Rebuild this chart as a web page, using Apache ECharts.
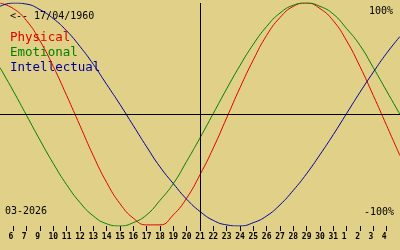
<!DOCTYPE html>
<html>
<head>
<meta charset="utf-8">
<script src="https://cdn.jsdelivr.net/npm/echarts@6/dist/echarts.min.js"></script>
<style>
html,body{margin:0;padding:0;background:#e0d088;}
#chart{width:400px;height:250px;}
</style>
</head>
<body>
<div id="chart"></div>
<script>
// Day tick labels (first/last positions are the chart edges, unlabeled)
var dayLabels = ['', '6', '7', '9', '10', '11', '12', '13', '14', '15', '16', '17', '18', '19', '20',
  '21', '22', '23', '24', '25', '26', '27', '28', '29', '30', '31', '1', '2', '3', '4', ' '];
// Values in percent, one per day position
var physical = [100, 95, 84, 66, 43, 17, -10, -37, -61, -80, -93, -99, -99, -90, -75, -54,
  -30, -3, 24, 49, 71, 87, 97, 100, 95, 84, 66, 43, 17, -10, -37];
var emotional = [42, 21, -1, -23, -44, -63, -79, -91, -98, -100, -97, -90, -77, -62, -42, -21,
  1, 23, 44, 63, 79, 91, 98, 100, 97, 90, 77, 62, 42, 21, 0];
var intellectual = [97, 100, 99, 94, 86, 75, 61, 45, 27, 9, -10, -29, -47, -62, -76, -87,
  -95, -99, -100, -97, -91, -81, -68, -53, -36, -18, 1, 20, 38, 55, 70];
var seriesNames = ['Physical', 'Emotional', 'Intellectual'];
var seriesColors = ['#e00000', '#008000', '#0000a0'];
var birthText = '<-- 17/04/1960';
var monthText = '03-2026';
var topText = '100%';
var bottomText = '-100%';
var todayLabel = '21';

var mono = 'DejaVu Sans Mono';
var chart = echarts.init(document.getElementById('chart'), null, {renderer: 'canvas'});
var lastIdx = dayLabels.length - 1;
var seriesData = [physical, emotional, intellectual];
var series = seriesData.map(function (d, i) {
  return {
    name: seriesNames[i],
    type: 'line',
    data: d,
    smooth: true,
    showSymbol: false,
    silent: true,
    animation: false,
    lineStyle: {color: seriesColors[i], width: 1},
    itemStyle: {color: seriesColors[i]}
  };
});
series[0].markLine = {
  silent: true,
  symbol: ['none', 'none'],
  label: {show: false},
  animation: false,
  lineStyle: {color: '#000', width: 1, type: 'solid'},
  data: [{yAxis: 0}, {xAxis: todayLabel}]
};

chart.setOption({
  backgroundColor: '#e0d088',
  animation: false,
  grid: {left: 0, right: 0, top: 3, bottom: 24, containLabel: false, outerBoundsMode: 'none'},
  xAxis: {
    type: 'category',
    data: dayLabels,
    boundaryGap: false,
    axisLine: {show: false, onZero: false},
    axisTick: {
      show: true,
      length: 5,
      lineStyle: {color: '#000', width: 1},
      interval: function (idx) { return idx > 0 && idx < lastIdx; }
    },
    axisLabel: {
      interval: 0,
      margin: 7,
      fontFamily: mono,
      fontSize: 8,
      fontWeight: 'bold',
      color: '#000',
      formatter: function (v) { return v.trim().length === 1 ? v + ' ' : v; }
    },
    splitLine: {show: false}
  },
  yAxis: {
    type: 'value',
    min: -100,
    max: 100,
    show: false,
    splitLine: {show: false}
  },
  graphic: [
    {type: 'text', left: 10, top: 11, style: {text: birthText, font: '10px "DejaVu Sans Mono"', fill: '#000'}},
    {type: 'text', left: 10, top: 31, style: {text: seriesNames[0], font: '12.5px "DejaVu Sans Mono"', fill: seriesColors[0]}},
    {type: 'text', left: 10, top: 46, style: {text: seriesNames[1], font: '12.5px "DejaVu Sans Mono"', fill: seriesColors[1]}},
    {type: 'text', left: 10, top: 61, style: {text: seriesNames[2], font: '12.5px "DejaVu Sans Mono"', fill: seriesColors[2]}},
    {type: 'text', right: 7, top: 6, style: {text: topText, font: '10px "DejaVu Sans Mono"', fill: '#000'}},
    {type: 'text', right: 6, top: 207, style: {text: bottomText, font: '10px "DejaVu Sans Mono"', fill: '#000'}},
    {type: 'text', left: 5, top: 206, style: {text: monthText, font: '10px "DejaVu Sans Mono"', fill: '#000'}}
  ],
  series: series
});
</script>
</body>
</html>
